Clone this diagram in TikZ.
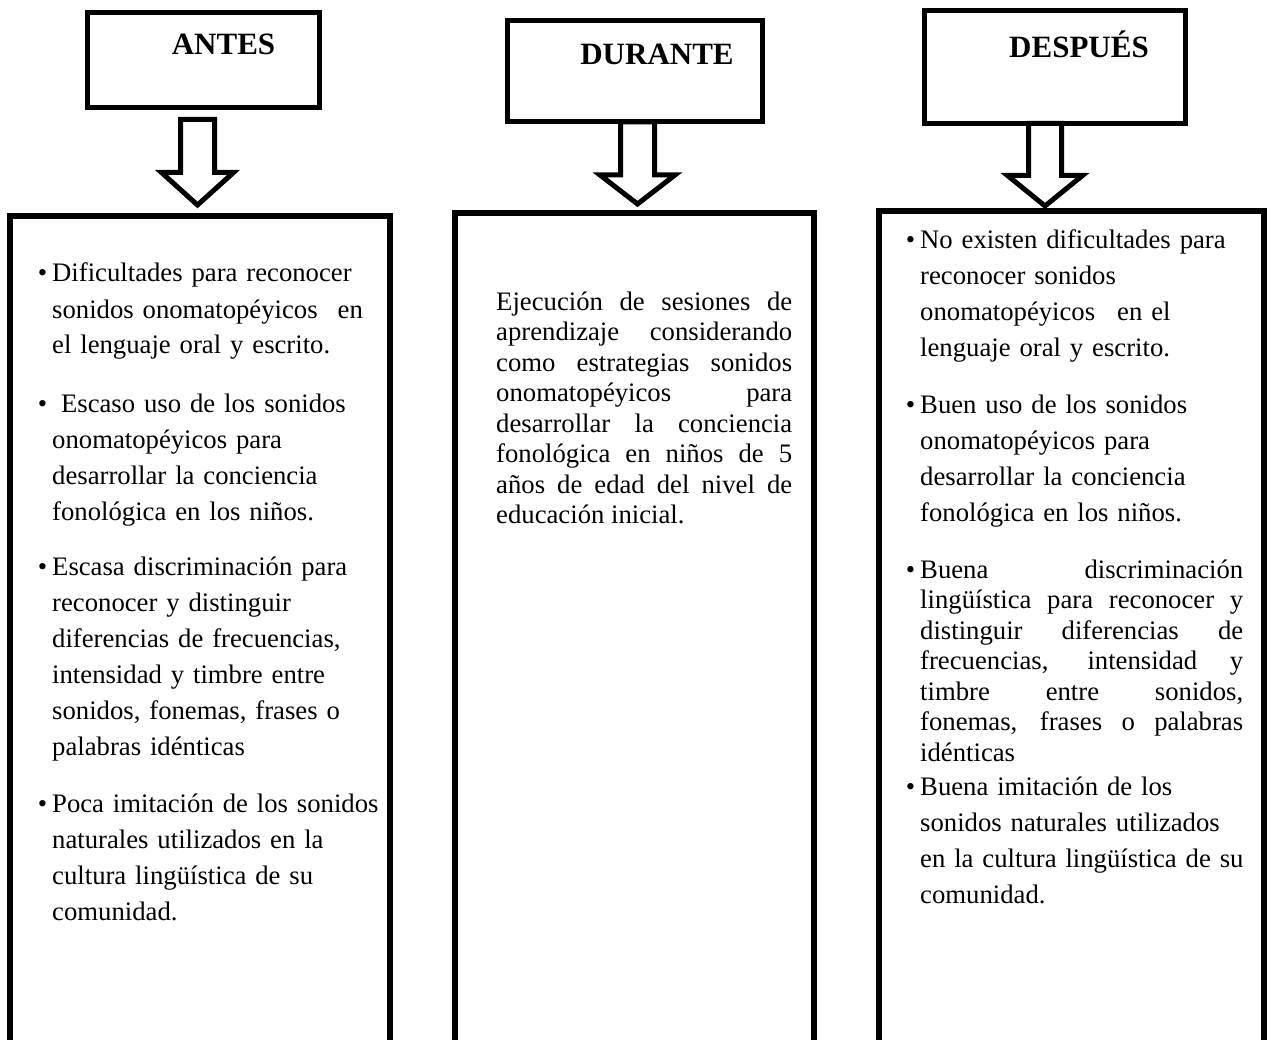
\documentclass[tikz,border=0pt]{standalone}
\usepackage{fontspec}
\setmainfont{Liberation Serif}
\usetikzlibrary{calc}
\tikzset{
  hbox/.style={draw, line width=5pt, inner sep=0pt, outer sep=0pt, minimum width=#1},
  bigbox/.style={draw, line width=6pt, inner sep=0pt, outer sep=0pt, minimum width=#1},
  htext/.style={font=\bfseries\fontsize{31}{31}\selectfont, inner sep=0pt, anchor=base},
  ragged/.style={font=\fontsize{26.7}{36}\selectfont, inner sep=0pt, anchor=base west, align=left, text width=#1},
  justi/.style={font=\fontsize{26.7}{30.5}\selectfont, inner sep=0pt, anchor=base west, align=justify, text width=#1},
  arrowline/.style={draw, line width=5pt, fill=white, line join=miter}
}
\newcommand{\bul}{\llap{\textbullet\hspace{5pt}}}
\newcommand{\hollowarrow}[5]{%
  \path[arrowline] let \p1=(#1), \p2=(#2) in
   (\x1-#3,\y1) -- (\x1-#3,\y2+#5) -- (\x1-#4,\y2+#5) -- (\x2,\y2)
   -- (\x1+#4,\y2+#5) -- (\x1+#3,\y2+#5) -- (\x1+#3,\y1) -- cycle;}
\begin{document}
\begin{tikzpicture}[x=1pt,y=-1pt]
\useasboundingbox (0,0) rectangle (1273,1040);
\clip (0,0) rectangle (1273,1040);
\fill[white] (0,0) rectangle (1273,1040);

% header boxes
\node[hbox=232pt, minimum height=95pt] (h1) at (203.5,60) {};
\node[hbox=255pt, minimum height=101.5pt] (h2) at (635,71.25) {};
\node[hbox=261pt, minimum height=113pt] (h3) at (1055,67) {};
\node[htext] (t1) at (223.5,55) {ANTES};
\node[htext] (t2) at (657,65) {DURANTE};
\node[htext] (t3) at (1079,58) {DESPUÉS};

% big boxes
\node[bigbox=380pt, minimum height=884pt] (b1) at (200,658) {};
\node[bigbox=359pt, minimum height=887pt] (b2) at (634.5,656.5) {};
\node[bigbox=385pt, minimum height=889pt] (b3) at (1071.5,655.5) {};

% arrows
\coordinate (a1top) at (197.5,119.5);
\coordinate (a1tip) at (197.5,205);
\coordinate (a2tip) at (637.5,204);
\coordinate (a2top) at (h2.south -| a2tip);
\coordinate (a3tip) at (1045,206);
\coordinate (a3top) at (h3.south -| a3tip);
\hollowarrow{a1top}{a1tip}{17pt}{36pt}{32.5pt}
\hollowarrow{a2top}{a2tip}{17pt}{37.5pt}{29pt}
\hollowarrow{a3top}{a3tip}{16.5pt}{37.5pt}{30.5pt}

% column 1
\node[ragged=335pt] (c1a) at (52,282) {\bul Dificultades para reconocer\\
sonidos onomatopéyicos\hspace{20pt}en\\
el lenguaje oral y escrito.};
\node[ragged=335pt] (c1b) at (52,412) {\bul\ Escaso uso de los sonidos\\
onomatopéyicos para\\
desarrollar la conciencia\\
fonológica en los niños.};
\node[ragged=335pt] (c1c) at (52,575) {\bul Escasa discriminación para\\
reconocer y distinguir\\
diferencias de frecuencias,\\
intensidad y timbre entre\\
sonidos, fonemas, frases o\\
palabras idénticas};
\node[ragged=335pt] (c1d) at (52,812) {\bul Poca imitación de los sonidos\\
naturales utilizados en la\\
cultura lingüística de su\\
comunidad.};

% column 2
\node[justi=296pt] (c2) at (496,310) {Ejecución de sesiones de\linebreak
aprendizaje considerando\linebreak
como estrategias sonidos\linebreak
onomatopéyicos para\linebreak
desarrollar la conciencia\linebreak
fonológica en niños de 5\linebreak
años de edad del nivel de\linebreak
educación inicial.};

% column 3
\node[ragged=340pt] (c3a) at (920,249) {\bul No existen dificultades para\\
reconocer sonidos\\
onomatopéyicos\hspace{22pt}en el\\
lenguaje oral y escrito.};
\node[ragged=340pt] (c3b) at (920,413) {\bul Buen uso de los sonidos\\
onomatopéyicos para\\
desarrollar la conciencia\\
fonológica en los niños.};
\node[justi=323pt] (c3c) at (920,578) {\bul Buena discriminación\linebreak
lingüística para reconocer y\linebreak
distinguir diferencias de\linebreak
frecuencias, intensidad y\linebreak
timbre entre sonidos,\linebreak
fonemas, frases o palabras\linebreak
idénticas};
\node[ragged=340pt] (c3d) at (920,795) {\bul Buena imitación de los\\
sonidos naturales utilizados\\
en la cultura lingüística de su\\
comunidad.};
\end{tikzpicture}
\end{document}
